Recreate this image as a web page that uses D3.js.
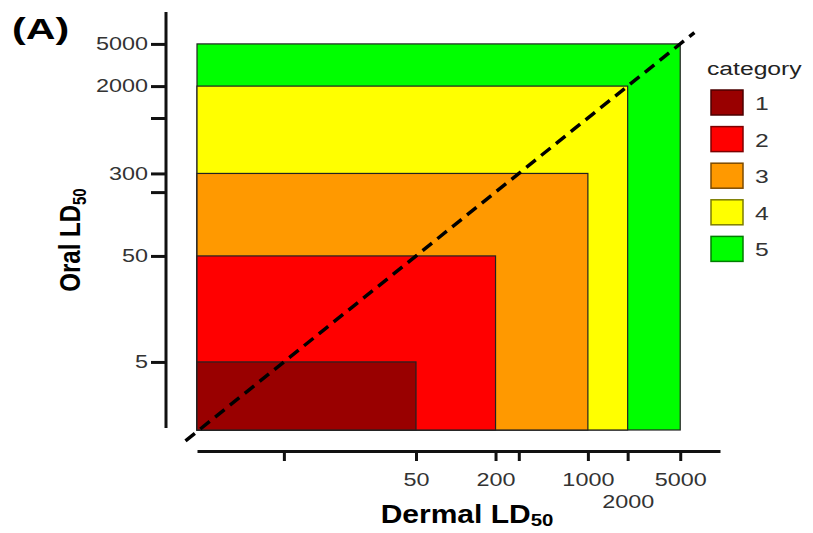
<!DOCTYPE html>
<meta charset="utf-8">
<style>
body { margin: 0; background: #fff; }
text { font-family: "Liberation Sans", Arial, sans-serif; }
.axis path, .axis line { stroke: #111; stroke-width: 3; }
.axis text { fill: #333; font-size: 18px; }
</style>
<svg width="813" height="533"></svg>
<script src="https://d3js.org/d3.v7.min.js"></script>
<script>

// hazard categories, cut-offs in mg/kg
var categories = ["1", "2", "3", "4", "5"];
var oralCut = [5, 50, 300, 2000, 5000];
var dermalCut = [50, 200, 1000, 2000, 5000];
var colors = ["#990000", "#ff0000", "#ff9900", "#ffff00", "#00ff00"];

var yTicks = [5, 50, 200, 300, 1000, 2000, 5000];
var yLabels = [5, 50, 300, 2000, 5000];
var xTicks = [5, 50, 200, 300, 1000, 2000, 5000];
var xLabels = [50, 200, 1000, 2000, 5000];

var SX = 1.3; // the picture is a bit wide, so the text is stretched

var svg = d3.select("svg");

var x = d3.scaleLog().domain([1.1, 10000]).range([197, 720]);
var y = d3.scaleLog().domain([1.14, 10000]).range([430, 12]);

// boxes, biggest first
var boxes = svg.append("g");
for (var i = categories.length - 1; i >= 0; i--) {
	boxes.append("rect")
		.attr("x", x(1.1))
		.attr("y", y(oralCut[i]))
		.attr("width", x(dermalCut[i]) - x(1.1))
		.attr("height", y(1.14) - y(oralCut[i]))
		.style("fill", colors[i])
		.style("stroke", "#222")
		.style("stroke-width", 1.2);
}

// diagonal oral = dermal
svg.append("line")
	.attr("x1", x(0.9)).attr("y1", y(0.9))
	.attr("x2", x(6400)).attr("y2", y(6400))
	.style("stroke", "#000")
	.style("stroke-width", 3.5)
	.style("stroke-dasharray", "12,7");

function stretch(sel) {
	sel.selectAll("text").each(function() {
		var t = d3.select(this), tx = +t.attr("x") || 0;
		t.attr("x", 0).attr("transform", "translate(" + tx + ",0) scale(" + SX + ",1)");
	});
}

var yAxis = d3.axisLeft(y)
	.tickValues(yTicks)
	.tickSize(15).tickSizeOuter(0).tickPadding(3)
	.tickFormat(function(d) { return yLabels.indexOf(d) >= 0 ? d : ""; });

svg.append("g")
	.attr("class", "axis")
	.attr("transform", "translate(166,0)")
	.call(yAxis)
	.call(function(g) { g.select(".domain").attr("d", "M0," + y.range()[1] + "V428"); })
	.call(stretch);

var xAxis = d3.axisBottom(x)
	.tickValues(xTicks)
	.tickSize(10).tickSizeOuter(0).tickPadding(12)
	.tickFormat(function(d) { return xLabels.indexOf(d) >= 0 ? d : ""; });

svg.append("g")
	.attr("class", "axis")
	.attr("transform", "translate(0,451)")
	.call(xAxis)
	.call(stretch)
	.selectAll("text")
	.filter(function(d) { return d === 2000; })
	.attr("y", 44);

// titles
svg.append("text")
	.attr("transform", "translate(12,39) scale(1.42,1)")
	.style("font-size", "29px").style("font-weight", "bold")
	.text("(A)");

var xt = svg.append("text")
	.attr("transform", "translate(467,523) scale(1.2,1)")
	.attr("text-anchor", "middle")
	.style("font-size", "25px").style("font-weight", "bold");
xt.append("tspan").text("Dermal LD");
xt.append("tspan").attr("dy", 3).style("font-size", "17px").text("50");

var yt = svg.append("g").attr("transform", "translate(80,240) scale(1.2,1) rotate(-90)");
var ytt = yt.append("text")
	.attr("text-anchor", "middle")
	.style("font-size", "24px").style("font-weight", "bold");
ytt.append("tspan").text("Oral LD");
ytt.append("tspan").attr("dy", 5).style("font-size", "15px").text("50");

// legend
var legend = svg.append("g").attr("transform", "translate(707,0)");
legend.append("text")
	.attr("transform", "translate(0,75) scale(1.3,1)")
	.style("font-size", "19px").style("fill", "#222")
	.text("category");

var key = legend.selectAll(".key")
	.data(categories)
	.enter().append("g")
	.attr("class", "key")
	.attr("transform", function(d, i) { return "translate(4," + (90 + i * 36.6) + ")"; });

key.append("rect")
	.attr("width", 32).attr("height", 25)
	.style("fill", function(d, i) { return colors[i]; })
	.style("stroke", function(d, i) { return d3.rgb(colors[i]).darker(2); })
	.style("stroke-width", 1.5);

key.append("text")
	.attr("transform", "translate(44,20) scale(1.3,1)")
	.style("font-size", "19px").style("fill", "#333")
	.text(function(d) { return d; });

</script>
